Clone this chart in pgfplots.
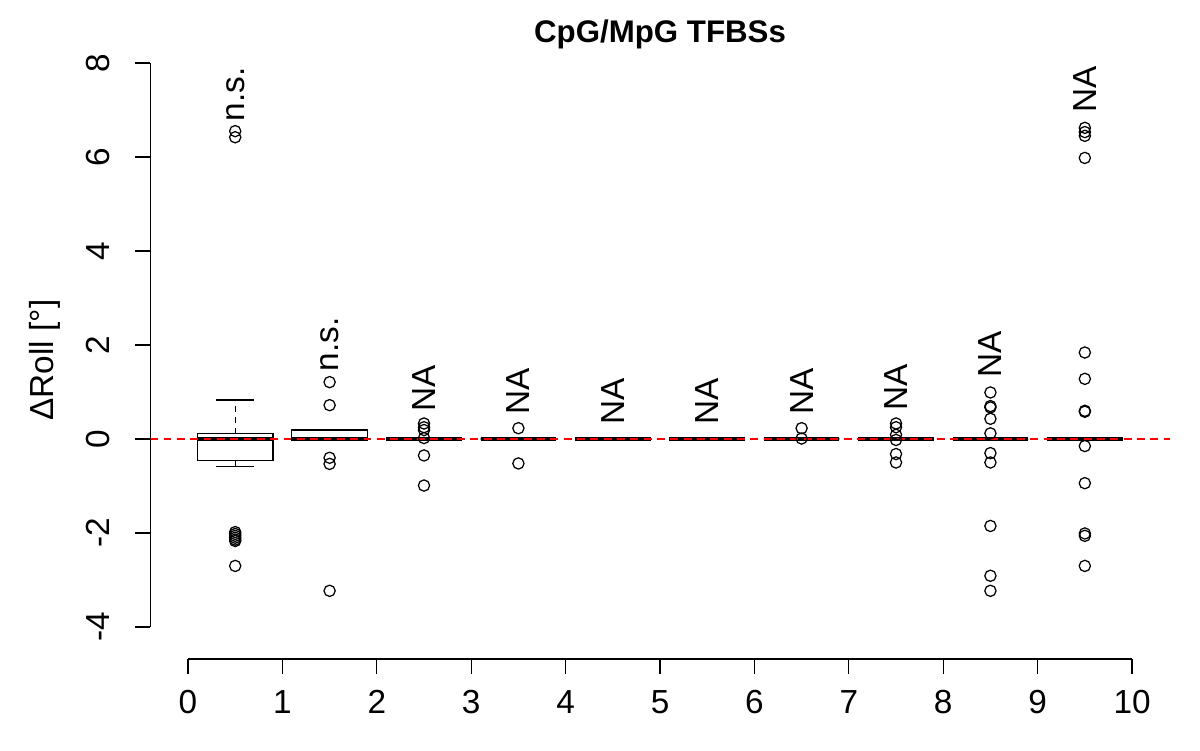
\documentclass[border=0pt]{standalone}
\usepackage{fontspec}
\setmainfont{Liberation Sans}
\usepackage{pgfplots}
\usepgfplotslibrary{statistics}
\pgfplotsset{compat=1.18}

\pgfplotstableread{
x y
0.5 6.55
0.5 6.42
0.5 -1.98
0.5 -2.02
0.5 -2.06
0.5 -2.10
0.5 -2.14
0.5 -2.17
0.5 -2.70
1.5 1.21
1.5 0.72
1.5 -0.40
1.5 -0.53
1.5 -3.23
2.5 0.33
2.5 0.25
2.5 0.19
2.5 0.02
2.5 -0.35
2.5 -0.99
3.5 0.23
3.5 -0.52
6.5 0.23
6.5 0.01
7.5 0.33
7.5 0.25
7.5 0.09
7.5 -0.02
7.5 -0.32
7.5 -0.50
8.5 0.99
8.5 0.70
8.5 0.67
8.5 0.43
8.5 0.12
8.5 -0.30
8.5 -0.50
8.5 -1.85
8.5 -2.91
8.5 -3.23
9.5 6.62
9.5 6.53
9.5 6.45
9.5 5.98
9.5 1.84
9.5 1.28
9.5 0.60
9.5 0.58
9.5 -0.15
9.5 -0.94
9.5 -2.01
9.5 -2.06
9.5 -2.70
}\outliers

\newcommand{\bigfont}{\fontsize{16}{19}\selectfont}

\pgfplotsset{
  rbox/.style={black, line width=0.6pt, solid,
    boxplot/draw direction=y,
    boxplot/box extend=0.8,
    boxplot/draw/median/.code={\draw[line width=2.2pt]
      (boxplot box cs:\pgfplotsboxplotvalue{median},0) --
      (boxplot box cs:\pgfplotsboxplotvalue{median},1);},
    boxplot/draw/lower whisker/.code={%
      \draw[dash pattern=on 2.6pt off 2.6pt]
        (boxplot box cs:\pgfplotsboxplotvalue{lower quartile},0.5) --
        (boxplot box cs:\pgfplotsboxplotvalue{lower whisker},0.5);
      \draw (boxplot box cs:\pgfplotsboxplotvalue{lower whisker},0.25) --
        (boxplot box cs:\pgfplotsboxplotvalue{lower whisker},0.75);},
    boxplot/draw/upper whisker/.code={%
      \draw[dash pattern=on 2.6pt off 2.6pt]
        (boxplot box cs:\pgfplotsboxplotvalue{upper quartile},0.5) --
        (boxplot box cs:\pgfplotsboxplotvalue{upper whisker},0.5);
      \draw (boxplot box cs:\pgfplotsboxplotvalue{upper whisker},0.25) --
        (boxplot box cs:\pgfplotsboxplotvalue{upper whisker},0.75);},
  },
}
\tikzset{lbl/.style={rotate=90, anchor=west, inner sep=0pt, font=\bigfont}}

\begin{document}
\begin{tikzpicture}
\begin{axis}[
  x=45.312pt, y=22.56pt,
  xmin=-0.4, xmax=10.4, ymin=-4.68, ymax=8.5,
  clip=false,
  axis line style={draw=none},
  xtick={0,1,...,10}, ytick={-4,-2,...,8},
  xtick pos=bottom, ytick pos=left,
  tick align=outside, major tick length=7.2pt,
  tick style={black, line width=0.6pt},
  /pgf/number format/assume math mode=true,
  ticklabel style={font=\bigfont},
  xticklabel style={yshift=-4.3pt},
  yticklabel style={xshift=-8.6pt, rotate=90, anchor=south},
]

\addplot[rbox, boxplot prepared={draw position=0.5, lower whisker=-0.59, lower quartile=-0.45, median=0, upper quartile=0.12, upper whisker=0.83}] coordinates {};
\addplot[rbox, boxplot prepared={draw position=1.5, lower whisker=-0.03, lower quartile=-0.03, median=0, upper quartile=0.19, upper whisker=0.21}] coordinates {};
\addplot[rbox, boxplot prepared={draw position=2.5, lower whisker=0, lower quartile=0, median=0, upper quartile=0, upper whisker=0}] coordinates {};
\addplot[rbox, boxplot prepared={draw position=3.5, lower whisker=0, lower quartile=0, median=0, upper quartile=0, upper whisker=0}] coordinates {};
\addplot[rbox, boxplot prepared={draw position=4.5, lower whisker=0, lower quartile=0, median=0, upper quartile=0, upper whisker=0}] coordinates {};
\addplot[rbox, boxplot prepared={draw position=5.5, lower whisker=0, lower quartile=0, median=0, upper quartile=0, upper whisker=0}] coordinates {};
\addplot[rbox, boxplot prepared={draw position=6.5, lower whisker=0, lower quartile=0, median=0, upper quartile=0, upper whisker=0}] coordinates {};
\addplot[rbox, boxplot prepared={draw position=7.5, lower whisker=0, lower quartile=0, median=0, upper quartile=0, upper whisker=0}] coordinates {};
\addplot[rbox, boxplot prepared={draw position=8.5, lower whisker=0, lower quartile=0, median=0, upper quartile=0, upper whisker=0}] coordinates {};
\addplot[rbox, boxplot prepared={draw position=9.5, lower whisker=0, lower quartile=0, median=0, upper quartile=0, upper whisker=0}] coordinates {};

\addplot[only marks, mark=o, mark size=2.7pt, black, mark options={line width=0.6pt}] table {\outliers};

% reference line at zero
\addplot[color=red, line width=0.6pt, dash pattern=on 3.8pt off 2.6pt] coordinates {(-0.4,0) (10.4,0)};

% R style axis lines
\draw[black, line width=0.6pt] (axis cs:0,-4.68) -- (axis cs:10,-4.68);
\draw[black, line width=0.6pt] (axis cs:-0.4,-4) -- (axis cs:-0.4,8);

\node[lbl] at (axis cs:0.5,6.75) {n.s.};
\node[lbl] at (axis cs:1.5,1.43) {n.s.};
\node[lbl] at (axis cs:2.5,0.57) {NA};
\node[lbl] at (axis cs:3.5,0.51) {NA};
\node[lbl] at (axis cs:4.5,0.30) {NA};
\node[lbl] at (axis cs:5.5,0.30) {NA};
\node[lbl] at (axis cs:6.5,0.51) {NA};
\node[lbl] at (axis cs:7.5,0.60) {NA};
\node[lbl] at (axis cs:8.5,1.30) {NA};
\node[lbl] at (axis cs:9.5,6.94) {NA};

\node[font=\bfseries\fontsize{15}{18}\selectfont, anchor=base] at (axis cs:5,8.43) {CpG/MpG TFBSs};
\node[rotate=90, font=\bigfont, anchor=base] at (axis cs:-1.43,1.68) {ΔRoll [°]};

% page frame
\path (axis cs:-1.9915,-6.617) rectangle (axis cs:10.72,9.34);
\end{axis}
\end{tikzpicture}
\end{document}
